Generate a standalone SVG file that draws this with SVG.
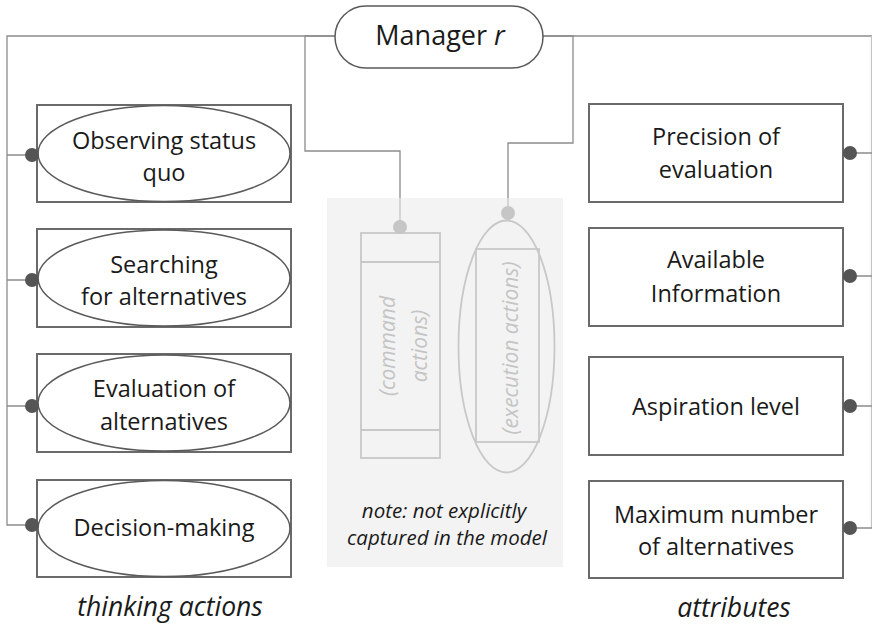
<svg xmlns="http://www.w3.org/2000/svg" width="872" height="628" viewBox="0 0 872 628">
  <style>
    .box { fill: #ffffff; stroke: #6a6a6a; stroke-width: 2; }
    .oval { fill: #ffffff; stroke: #5a5a5a; stroke-width: 1.5; }
    .wire { fill: none; stroke: #8c8c8c; stroke-width: 1.3; }
    .wire-faint { fill: none; stroke: #c4c4c4; stroke-width: 1.3; }
    .dot { fill: #555555; }
    .dot-faint { fill: #c6c6c6; }
    .ghost { fill: none; stroke: #c8c8c8; stroke-width: 1.8; }
    .lbl { font-family: "Open Sans", "Liberation Sans", sans-serif; font-size: 23.5px; fill: #1a1a1a; text-anchor: middle; }
    .cap { font-family: "Open Sans", "Liberation Sans", sans-serif; font-size: 26.5px; font-style: italic; fill: #1a1a1a; text-anchor: middle; }
    .note { font-family: "Open Sans", "Liberation Sans", sans-serif; font-size: 20.5px; font-style: italic; fill: #1a1a1a; text-anchor: middle; }
    .ghost-txt { font-family: "Open Sans", "Liberation Sans", sans-serif; font-size: 21px; font-style: italic; fill: #c4c4c4; text-anchor: middle; }
  </style>

  <rect width="872" height="628" fill="#ffffff"/>

  <!-- shaded area for actions not captured by the model -->
  <rect id="note-area" x="327" y="198" width="236" height="369" fill="#f3f3f3"/>

  <!-- connectors -->
  <g id="connectors">
    <path class="wire" d="M335 36 H7 V525 H32"/>
    <path class="wire" d="M7 155 H32 M7 280 H32 M7 406 H32"/>
    <path class="wire" d="M543 36 H872"/>
    <path class="wire-faint" d="M871.5 36 V528"/>
    <path class="wire" d="M850 153 H872 M850 276 H872 M850 406 H872 M850 528 H872"/>
    <path class="wire" d="M335 36 H305 V151 H400 V198"/>
    <path class="wire-faint" d="M400 198 V222"/>
    <path class="wire" d="M543 36 H573 V143 H508 V198"/>
    <path class="wire-faint" d="M508 198 V208"/>
  </g>

  <!-- root node -->
  <g id="manager">
    <rect x="335" y="6" width="208" height="62" rx="31" ry="31" fill="#ffffff" stroke="#5a5a5a" stroke-width="1.5"/>
    <text x="440" y="45" class="lbl" style="font-size:27px">Manager <tspan font-style="italic">r</tspan></text>
  </g>

  <!-- thinking actions -->
  <g id="observing">
    <rect class="box" x="37" y="105" width="254" height="97"/>
    <ellipse class="oval" cx="164" cy="153.5" rx="126" ry="48"/>
    <text class="lbl" x="164" y="149">Observing status</text>
    <text class="lbl" x="164" y="181">quo</text>
    <circle class="dot" cx="32" cy="155" r="7"/>
  </g>
  <g id="searching">
    <rect class="box" x="37" y="229" width="254" height="98"/>
    <ellipse class="oval" cx="164" cy="278" rx="126" ry="48"/>
    <text class="lbl" x="164" y="273">Searching</text>
    <text class="lbl" x="164" y="305">for alternatives</text>
    <circle class="dot" cx="32" cy="280" r="7"/>
  </g>
  <g id="evaluation">
    <rect class="box" x="37" y="354" width="254" height="98"/>
    <ellipse class="oval" cx="164" cy="403" rx="126" ry="48"/>
    <text class="lbl" x="164" y="397">Evaluation of</text>
    <text class="lbl" x="164" y="430">alternatives</text>
    <circle class="dot" cx="32" cy="406" r="7"/>
  </g>
  <g id="decision">
    <rect class="box" x="37" y="480" width="254" height="97"/>
    <ellipse class="oval" cx="164" cy="528.5" rx="126" ry="48"/>
    <text class="lbl" x="164" y="536">Decision-making</text>
    <circle class="dot" cx="32" cy="525" r="7"/>
  </g>

  <!-- command / execution actions -->
  <g id="command-actions">
    <rect class="ghost" x="361" y="233" width="79" height="225"/>
    <path class="ghost" d="M361 262 H440 M361 430 H440"/>
    <text class="ghost-txt" transform="translate(395 346) rotate(-90)"><tspan x="0" y="0">(command</tspan><tspan x="0" y="32">actions)</tspan></text>
    <circle class="dot-faint" cx="400" cy="227" r="7"/>
  </g>
  <g id="execution-actions">
    <ellipse class="ghost" cx="506.5" cy="346.5" rx="48" ry="126"/>
    <rect class="ghost" x="476" y="249" width="63" height="193"/>
    <text class="ghost-txt" transform="translate(518 348) rotate(-90)">(execution actions)</text>
    <circle class="dot-faint" cx="508" cy="213" r="7"/>
  </g>
  <g id="note">
    <text class="note" x="444" y="518">note: not explicitly</text>
    <text class="note" x="447" y="545">captured in the model</text>
  </g>

  <!-- attributes -->
  <g id="precision">
    <rect class="box" x="589" y="104" width="254" height="98"/>
    <text class="lbl" x="716" y="145">Precision of</text>
    <text class="lbl" x="716" y="178">evaluation</text>
    <circle class="dot" cx="850" cy="153" r="7"/>
  </g>
  <g id="information">
    <rect class="box" x="589" y="228" width="254" height="98"/>
    <text class="lbl" x="716" y="268">Available</text>
    <text class="lbl" x="716" y="302">Information</text>
    <circle class="dot" cx="850" cy="276" r="7"/>
  </g>
  <g id="aspiration">
    <rect class="box" x="589" y="357" width="254" height="98"/>
    <text class="lbl" x="716" y="415">Aspiration level</text>
    <circle class="dot" cx="850" cy="406" r="7"/>
  </g>
  <g id="max-alternatives">
    <rect class="box" x="589" y="481" width="254" height="97"/>
    <text class="lbl" x="716" y="523">Maximum number</text>
    <text class="lbl" x="716" y="555">of alternatives</text>
    <circle class="dot" cx="850" cy="528" r="7"/>
  </g>

  <!-- column captions -->
  <text class="cap" x="170" y="616">thinking actions</text>
  <text class="cap" x="734" y="617">attributes</text>
</svg>
